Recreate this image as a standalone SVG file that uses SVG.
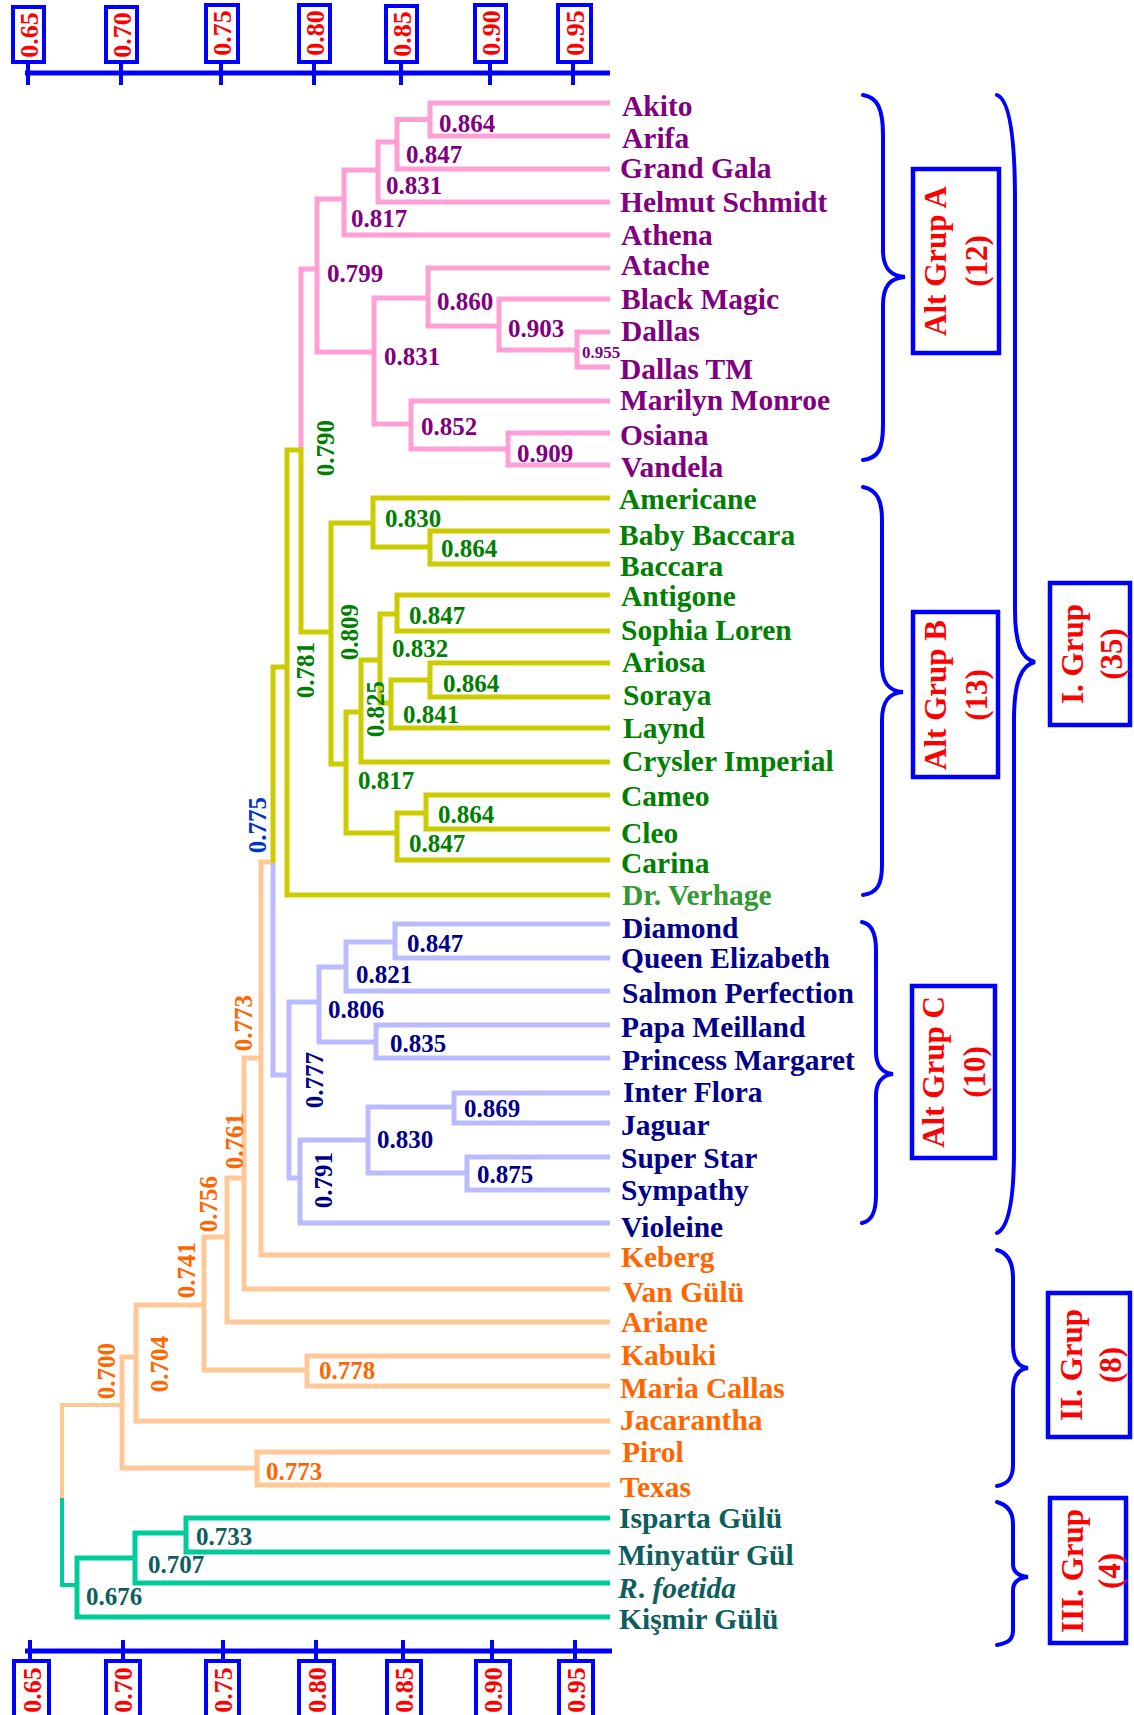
<svg xmlns="http://www.w3.org/2000/svg" width="1134" height="1715" viewBox="0 0 1134 1715">
<style>
text{font-family:"Liberation Serif","Times New Roman",serif;font-weight:bold}
.ln{fill:none;stroke-width:5;stroke-linejoin:miter;stroke-linecap:butt}
.pk{stroke:#FF9FD6}.yl{stroke:#CCCC00}.lv{stroke:#BBBBFF}.or{stroke:#FFC896}.tl{stroke:#00CC99}
.leaf{font-size:29.5px}
.num{font-size:25px}
.pu{fill:#800080}.gr{fill:#008000}.gv{fill:#339933}.db{fill:#00008B}.og{fill:#FF6600}.te{fill:#0E5E5E}.bl{fill:#0033CC}
.ax{stroke:#0000FF;stroke-width:5;fill:none}
.tk{stroke:#0000FF;stroke-width:4}
.abox{fill:#fff;stroke:#0000FF;stroke-width:4}
.atx{fill:#FF0000;font-size:26px}
.br{fill:none;stroke:#0000FF;stroke-width:4;stroke-linecap:round}
.gbox{fill:#fff;stroke:#0000FF;stroke-width:4.5}
.gtx{fill:#FF0000;font-size:31px}
</style>

<g id="axis-top">
<path class="ax" d="M25,73 H610"/>
<path class="tk" d="M28,61 V85 M121,61 V85 M221,61 V85 M314,61 V85 M401,61 V85 M490,61 V85 M573,61 V85"/>
<rect class="abox" x="13" y="7" width="31" height="55"/>
<rect class="abox" x="106" y="7" width="31" height="55"/>
<rect class="abox" x="206" y="5" width="32" height="57"/>
<rect class="abox" x="299" y="5" width="31" height="57"/>
<rect class="abox" x="386" y="6" width="31" height="56"/>
<rect class="abox" x="475" y="5" width="31" height="57"/>
<rect class="abox" x="558" y="5" width="33" height="57"/>
<text class="atx" text-anchor="middle" transform="translate(38,35) rotate(-90)">0.65</text>
<text class="atx" text-anchor="middle" transform="translate(131,35) rotate(-90)">0.70</text>
<text class="atx" text-anchor="middle" transform="translate(231,33) rotate(-90)">0.75</text>
<text class="atx" text-anchor="middle" transform="translate(324,33) rotate(-90)">0.80</text>
<text class="atx" text-anchor="middle" transform="translate(411,34) rotate(-90)">0.85</text>
<text class="atx" text-anchor="middle" transform="translate(500,33) rotate(-90)">0.90</text>
<text class="atx" text-anchor="middle" transform="translate(584,33) rotate(-90)">0.95</text>
</g>

<g id="axis-bottom">
<path class="ax" d="M25,1651 H612"/>
<path class="tk" d="M30,1640 V1661 M123,1640 V1661 M223,1640 V1661 M316,1640 V1661 M403,1640 V1661 M492,1640 V1661 M575,1640 V1661"/>
<rect class="abox" x="14" y="1661" width="35" height="60"/>
<rect class="abox" x="106" y="1661" width="34" height="60"/>
<rect class="abox" x="206" y="1661" width="33" height="60"/>
<rect class="abox" x="299" y="1661" width="35" height="60"/>
<rect class="abox" x="387" y="1661" width="34" height="60"/>
<rect class="abox" x="476" y="1661" width="34" height="60"/>
<rect class="abox" x="559" y="1661" width="34" height="60"/>
<text class="atx" text-anchor="middle" transform="translate(41,1690) rotate(-90)">0.65</text>
<text class="atx" text-anchor="middle" transform="translate(132,1690) rotate(-90)">0.70</text>
<text class="atx" text-anchor="middle" transform="translate(232,1690) rotate(-90)">0.75</text>
<text class="atx" text-anchor="middle" transform="translate(326,1690) rotate(-90)">0.80</text>
<text class="atx" text-anchor="middle" transform="translate(413,1690) rotate(-90)">0.85</text>
<text class="atx" text-anchor="middle" transform="translate(502,1690) rotate(-90)">0.90</text>
<text class="atx" text-anchor="middle" transform="translate(585,1690) rotate(-90)">0.95</text>
</g>

<g id="connectors">
<g class="ln pk">
<path d="M610,103 H430 V136 H610"/>
<path d="M430,119.5 H397 V169 H610"/>
<path d="M397,142 H378 V202 H610"/>
<path d="M378,170 H344 V235 H610"/>
<path d="M610,332 H577 V367 H610"/>
<path d="M577,350 H499 V299 H610"/>
<path d="M499,326 H428 V268 H610"/>
<path d="M610,433 H508 V465 H610"/>
<path d="M508,449 H411 V401 H610"/>
<path d="M428,298 H374 V424 H411"/>
<path d="M344,199 H317 V352 H374"/>
<path d="M317,269 H301 V449"/>
</g>
<g class="ln yl">
<path d="M610,531 H430 V564 H610"/>
<path d="M610,498 H373 V547 H430"/>
<path d="M610,595 H397 V631 H610"/>
<path d="M610,663 H430 V697 H610"/>
<path d="M430,680 H391 V728 H610"/>
<path d="M397,614 H380 V703 H391"/>
<path d="M380,660 H361 V762 H610"/>
<path d="M610,795 H426 V829 H610"/>
<path d="M426,813 H397 V860 H610"/>
<path d="M361,712 H346 V833 H397"/>
<path d="M373,523 H331 V764 H346"/>
<path d="M331,632 H301 V450 H287 V895 H610"/>
<path d="M287,667 H273 V863"/>
</g>
<g class="ln lv">
<path d="M273,863 V1075 H289"/>
<path d="M610,924 H395 V958 H610"/>
<path d="M395,942 H346 V991 H610"/>
<path d="M610,1025 H376 V1058 H610"/>
<path d="M346,967 H319 V1042 H376"/>
<path d="M610,1093 H454 V1123 H610"/>
<path d="M610,1157 H467 V1190 H610"/>
<path d="M454,1107 H368 V1173 H467"/>
<path d="M368,1140 H300 V1223 H610"/>
<path d="M319,1002 H289 V1178 H300"/>
</g>
<g class="ln or">
<path d="M271,862 H261 V1255 H610"/>
<path d="M261,1058 H244 V1289 H610"/>
<path d="M244,1178 H227 V1322 H610"/>
<path d="M610,1356 H307 V1386 H610"/>
<path d="M227,1237 H204 V1370 H307"/>
<path d="M204,1305 H136 V1421 H610"/>
<path d="M610,1452 H257 V1485 H610"/>
<path d="M136,1357 H122 V1468 H257"/>
<path d="M122,1405 H62 V1498" style="stroke-width:4"/>
</g>
<g class="ln tl">
<path d="M62,1498 V1585 H77" style="stroke-width:4"/>
<path d="M610,1518 H186 V1552 H610"/>
<path d="M186,1533 H135 V1583 H610"/>
<path d="M135,1558 H77 V1617 H610"/>
</g>
</g>

<g id="node-values">
<g class="num pu">
<text x="439" y="132">0.864</text>
<text x="406" y="163">0.847</text>
<text x="386" y="194">0.831</text>
<text x="351" y="227">0.817</text>
<text x="327" y="282">0.799</text>
<text x="437" y="310">0.860</text>
<text x="508" y="337">0.903</text>
<text x="582" y="358" style="font-size:17px">0.955</text>
<text x="384" y="365">0.831</text>
<text x="421" y="435">0.852</text>
<text x="517" y="462">0.909</text>
</g>
<g class="num gr">
<text x="385" y="527">0.830</text>
<text x="441" y="557">0.864</text>
<text x="409" y="624">0.847</text>
<text x="392" y="657">0.832</text>
<text x="443" y="692">0.864</text>
<text x="403" y="723">0.841</text>
<text x="358" y="789">0.817</text>
<text x="438" y="823">0.864</text>
<text x="409" y="852">0.847</text>
<text text-anchor="middle" transform="translate(334,448) rotate(-90)">0.790</text>
<text text-anchor="middle" transform="translate(358,632) rotate(-90)">0.809</text>
<text text-anchor="middle" transform="translate(384,709) rotate(-90)">0.825</text>
<text text-anchor="middle" transform="translate(314,670) rotate(-90)">0.781</text>
</g>
<g class="num bl">
<text text-anchor="middle" transform="translate(266,825) rotate(-90)">0.775</text>
</g>
<g class="num db">
<text x="407" y="952">0.847</text>
<text x="356" y="983">0.821</text>
<text x="328" y="1018">0.806</text>
<text x="390" y="1052">0.835</text>
<text x="464" y="1117">0.869</text>
<text x="377" y="1148">0.830</text>
<text x="477" y="1183">0.875</text>
<text text-anchor="middle" transform="translate(323,1080) rotate(-90)">0.777</text>
<text text-anchor="middle" transform="translate(332,1180) rotate(-90)">0.791</text>
</g>
<g class="num og">
<text x="319" y="1379">0.778</text>
<text x="266" y="1480">0.773</text>
<text text-anchor="middle" transform="translate(252,1023) rotate(-90)">0.773</text>
<text text-anchor="middle" transform="translate(243,1141) rotate(-90)">0.761</text>
<text text-anchor="middle" transform="translate(217,1204) rotate(-90)">0.756</text>
<text text-anchor="middle" transform="translate(195,1270) rotate(-90)">0.741</text>
<text text-anchor="middle" transform="translate(168,1364) rotate(-90)">0.704</text>
<text text-anchor="middle" transform="translate(115,1371) rotate(-90)">0.700</text>
</g>
<g class="num te">
<text x="196" y="1545">0.733</text>
<text x="148" y="1573">0.707</text>
<text x="86" y="1605">0.676</text>
</g>
</g>

<g id="leaves" class="leaf">
<g id="leaf-akito" class="pu"><text x="622" y="116">Akito</text></g>
<g id="leaf-arifa" class="pu"><text x="622" y="148">Arifa</text></g>
<g id="leaf-grand-gala" class="pu"><text x="620" y="178">Grand Gala</text></g>
<g id="leaf-helmut-schmidt" class="pu"><text x="620" y="212">Helmut Schmidt</text></g>
<g id="leaf-athena" class="pu"><text x="621" y="245">Athena</text></g>
<g id="leaf-atache" class="pu"><text x="621" y="275">Atache</text></g>
<g id="leaf-black-magic" class="pu"><text x="621" y="309">Black Magic</text></g>
<g id="leaf-dallas" class="pu"><text x="621" y="341">Dallas</text></g>
<g id="leaf-dallas-tm" class="pu"><text x="620" y="379">Dallas TM</text></g>
<g id="leaf-marilyn-monroe" class="pu"><text x="620" y="410">Marilyn Monroe</text></g>
<g id="leaf-osiana" class="pu"><text x="620" y="445">Osiana</text></g>
<g id="leaf-vandela" class="pu"><text x="621" y="477">Vandela</text></g>
<g id="leaf-americane" class="gr"><text x="619" y="509">Americane</text></g>
<g id="leaf-baby-baccara" class="gr"><text x="619" y="545">Baby Baccara</text></g>
<g id="leaf-baccara" class="gr"><text x="620" y="576">Baccara</text></g>
<g id="leaf-antigone" class="gr"><text x="621" y="606">Antigone</text></g>
<g id="leaf-sophia-loren" class="gr"><text x="621" y="640">Sophia Loren</text></g>
<g id="leaf-ariosa" class="gr"><text x="622" y="672">Ariosa</text></g>
<g id="leaf-soraya" class="gr"><text x="623" y="705">Soraya</text></g>
<g id="leaf-laynd" class="gr"><text x="623" y="738">Laynd</text></g>
<g id="leaf-crysler-imperial" class="gr"><text x="622" y="771">Crysler Imperial</text></g>
<g id="leaf-cameo" class="gr"><text x="621" y="806">Cameo</text></g>
<g id="leaf-cleo" class="gr"><text x="621" y="843">Cleo</text></g>
<g id="leaf-carina" class="gr"><text x="621" y="873">Carina</text></g>
<g id="leaf-dr-verhage" class="gv"><text x="622" y="905">Dr. Verhage</text></g>
<g id="leaf-diamond" class="db"><text x="622" y="938">Diamond</text></g>
<g id="leaf-queen-elizabeth" class="db"><text x="621" y="968">Queen Elizabeth</text></g>
<g id="leaf-salmon-perfection" class="db"><text x="622" y="1003">Salmon Perfection</text></g>
<g id="leaf-papa-meilland" class="db"><text x="621" y="1037">Papa Meilland</text></g>
<g id="leaf-princess-margaret" class="db"><text x="622" y="1070">Princess Margaret</text></g>
<g id="leaf-inter-flora" class="db"><text x="623" y="1102">Inter Flora</text></g>
<g id="leaf-jaguar" class="db"><text x="621" y="1135">Jaguar</text></g>
<g id="leaf-super-star" class="db"><text x="621" y="1168">Super Star</text></g>
<g id="leaf-sympathy" class="db"><text x="621" y="1200">Sympathy</text></g>
<g id="leaf-violeine" class="db"><text x="621" y="1237">Violeine</text></g>
<g id="leaf-keberg" class="og"><text x="621" y="1267">Keberg</text></g>
<g id="leaf-van-gulu" class="og"><text x="623" y="1302">Van Gülü</text></g>
<g id="leaf-ariane" class="og"><text x="621" y="1332">Ariane</text></g>
<g id="leaf-kabuki" class="og"><text x="621" y="1365">Kabuki</text></g>
<g id="leaf-maria-callas" class="og"><text x="620" y="1398">Maria Callas</text></g>
<g id="leaf-jacarantha" class="og"><text x="620" y="1430">Jacarantha</text></g>
<g id="leaf-pirol" class="og"><text x="622" y="1462">Pirol</text></g>
<g id="leaf-texas" class="og"><text x="620" y="1497">Texas</text></g>
<g id="leaf-isparta-gulu" class="te"><text x="619" y="1528">Isparta Gülü</text></g>
<g id="leaf-minyatur-gul" class="te"><text x="618" y="1565">Minyatür Gül</text></g>
<g id="leaf-r-foetida" class="te"><text x="618" y="1598" font-style="italic">R<tspan font-style="normal">.</tspan> foetida</text></g>
<g id="leaf-kismir-gulu" class="te"><text x="619" y="1629">Kişmir Gülü</text></g>
</g>

<g id="group-braces">
<g id="brace-alt-a"><path class="br" d="M863,95 C878,97 883,110 883,135 L883,250 C883,268 890,276 905,277 C890,278 883,286 883,305 L883,425 C883,450 878,458 863,460"/></g>
<g id="brace-alt-b"><path class="br" d="M863,487 C877,490 882,500 882,520 L882,665 C882,683 889,691 903,692 C889,693 882,701 882,720 L882,865 C882,885 877,893 863,895"/></g>
<g id="brace-alt-c"><path class="br" d="M862,922 C872,924 876,934 876,950 L876,1052 C876,1065 882,1073 893,1074 C882,1075 876,1083 876,1096 L876,1195 C876,1212 872,1221 862,1223"/></g>
<g id="brace-grup-1"><path class="br" d="M997,95 C1010,100 1015,140 1015,200 L1015,610 C1015,645 1022,659 1035,662 C1022,665 1014,680 1014,720 L1014,1150 C1014,1200 1008,1228 997,1233"/></g>
<g id="brace-grup-2"><path class="br" d="M997,1250 C1008,1253 1013,1262 1013,1278 L1013,1345 C1013,1360 1018,1367 1028,1368 C1018,1369 1013,1376 1013,1391 L1013,1465 C1013,1478 1008,1484 997,1486"/></g>
<g id="brace-grup-3"><path class="br" d="M997,1502 C1008,1505 1013,1512 1013,1524 L1013,1564 C1013,1572 1018,1576 1028,1577 C1018,1578 1013,1582 1013,1590 L1013,1630 C1013,1640 1008,1643 997,1645"/></g>
</g>

<g id="group-boxes">
<g id="box-alt-a">
<rect class="gbox" x="913" y="169" width="86" height="184"/>
<text class="gtx" text-anchor="middle" transform="translate(946,261) rotate(-90)">Alt Grup A</text>
<text class="gtx" text-anchor="middle" transform="translate(987,261) rotate(-90)">(12)</text>
</g>
<g id="box-alt-b">
<rect class="gbox" x="913" y="612" width="85" height="165"/>
<text class="gtx" text-anchor="middle" transform="translate(946,695) rotate(-90)">Alt Grup B</text>
<text class="gtx" text-anchor="middle" transform="translate(987,695) rotate(-90)">(13)</text>
</g>
<g id="box-alt-c">
<rect class="gbox" x="912" y="986" width="83" height="172"/>
<text class="gtx" text-anchor="middle" transform="translate(944,1072) rotate(-90)">Alt Grup C</text>
<text class="gtx" text-anchor="middle" transform="translate(985,1072) rotate(-90)">(10)</text>
</g>
<g id="box-grup-1">
<rect class="gbox" x="1050" y="583" width="80" height="142"/>
<text class="gtx" text-anchor="middle" transform="translate(1083,654) rotate(-90)">I. Grup</text>
<text class="gtx" text-anchor="middle" transform="translate(1122,654) rotate(-90)">(35)</text>
</g>
<g id="box-grup-2">
<rect class="gbox" x="1048" y="1293" width="82" height="144"/>
<text class="gtx" text-anchor="middle" transform="translate(1082,1365) rotate(-90)">II. Grup</text>
<text class="gtx" text-anchor="middle" transform="translate(1121,1365) rotate(-90)">(8)</text>
</g>
<g id="box-grup-3">
<rect class="gbox" x="1050" y="1498" width="76" height="145"/>
<text class="gtx" text-anchor="middle" transform="translate(1083,1571) rotate(-90)">III. Grup</text>
<text class="gtx" text-anchor="middle" transform="translate(1120,1571) rotate(-90)">(4)</text>
</g>
</g>
</svg>
